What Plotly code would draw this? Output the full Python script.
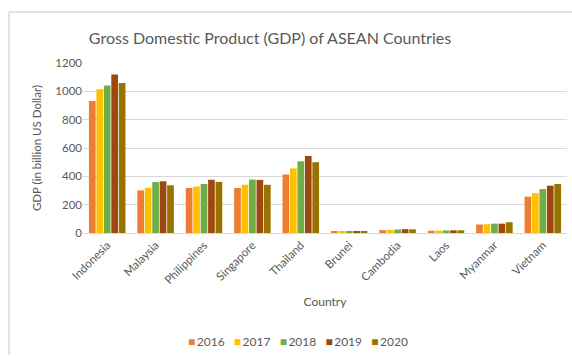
import plotly.graph_objects as go

countries = ["Indonesia", "Malaysia", "Philippines", "Singapore", "Thailand",
             "Brunei", "Cambodia", "Laos", "Myanmar", "Vietnam"]
years = ["2016", "2017", "2018", "2019", "2020"]
gdp_2016 = [932, 301, 318, 318, 413, 11.4, 20.0, 15.8, 60, 256]
gdp_2017 = [1015, 319, 328, 341, 456, 12.1, 22.2, 17.1, 62, 281]
gdp_2018 = [1042, 359, 346, 377, 506, 13.6, 24.6, 18.1, 66, 310]
gdp_2019 = [1119, 365, 376, 375, 544, 13.5, 27.1, 18.7, 66, 334]
gdp_2020 = [1058, 337, 361, 340, 500, 12.0, 25.9, 19.1, 76, 346]
series = [gdp_2016, gdp_2017, gdp_2018, gdp_2019, gdp_2020]
colors = ["#ED7D31", "#FFC000", "#70AD47", "#9E480E", "#997300"]

FONT = "Lato"
GREY = "#595959"
W, H = 572, 356

fig = go.Figure()
for yr, vals, c in zip(years, series, colors):
    fig.add_trace(go.Bar(name=yr, x=countries, y=vals, showlegend=False,
                         marker=dict(color=c, line=dict(width=0))))

# compact legend (Excel style) built from the year/colour lists
legend_text = "&nbsp;&nbsp;&nbsp;".join(
    f"<span style='color:{c}'>■</span>&#8201;{yr}" for yr, c in zip(years, colors))

fig.update_layout(
    width=W, height=H,
    margin=dict(l=83, r=5, t=63, b=123),
    paper_bgcolor="white", plot_bgcolor="white",
    barmode="group", bargap=0.23, bargroupgap=0.1,
    font=dict(family=FONT, color=GREY, size=11),
    title=dict(text="Gross Domestic Product (GDP) of ASEAN Countries",
               x=270 / W, xref="container", xanchor="center", y=1 - 38 / H, yanchor="middle",
               font=dict(size=16, color=GREY, family=FONT)),
    xaxis=dict(tickangle=-45, showgrid=False, showline=True, linecolor="#D9D9D9",
               ticks="", tickfont=dict(size=11.5, color=GREY),
               title=dict(text="Country", font=dict(size=12, color=GREY), standoff=12)),
    yaxis=dict(range=[0, 1200], dtick=200, showgrid=True, gridcolor="#D9D9D9",
               zeroline=False, ticks="", tickfont=dict(size=11.5, color=GREY),
               title=dict(text="GDP (in billion US Dollar)", font=dict(size=11.5, color=GREY), standoff=11)),
    annotations=[dict(text=legend_text, xref="paper", yref="paper",
                      x=(298 - 83) / 484, y=-(341 - 233) / 170, xanchor="center", yanchor="middle",
                      showarrow=False, font=dict(size=12, color=GREY, family=FONT))],
    shapes=[dict(type="line", xref="paper", yref="paper", x0=-74/484, x1=1.02, y0=1 + 51/170, y1=1 + 51/170,
                 line=dict(color="#D9D9D9", width=1.5)),
            dict(type="line", xref="paper", yref="paper", x0=-74/484, x1=-74/484, y0=1 + 51/170, y1=-122/170,
                 line=dict(color="#D9D9D9", width=1.5))],
)

fig.write_html("out.html")
